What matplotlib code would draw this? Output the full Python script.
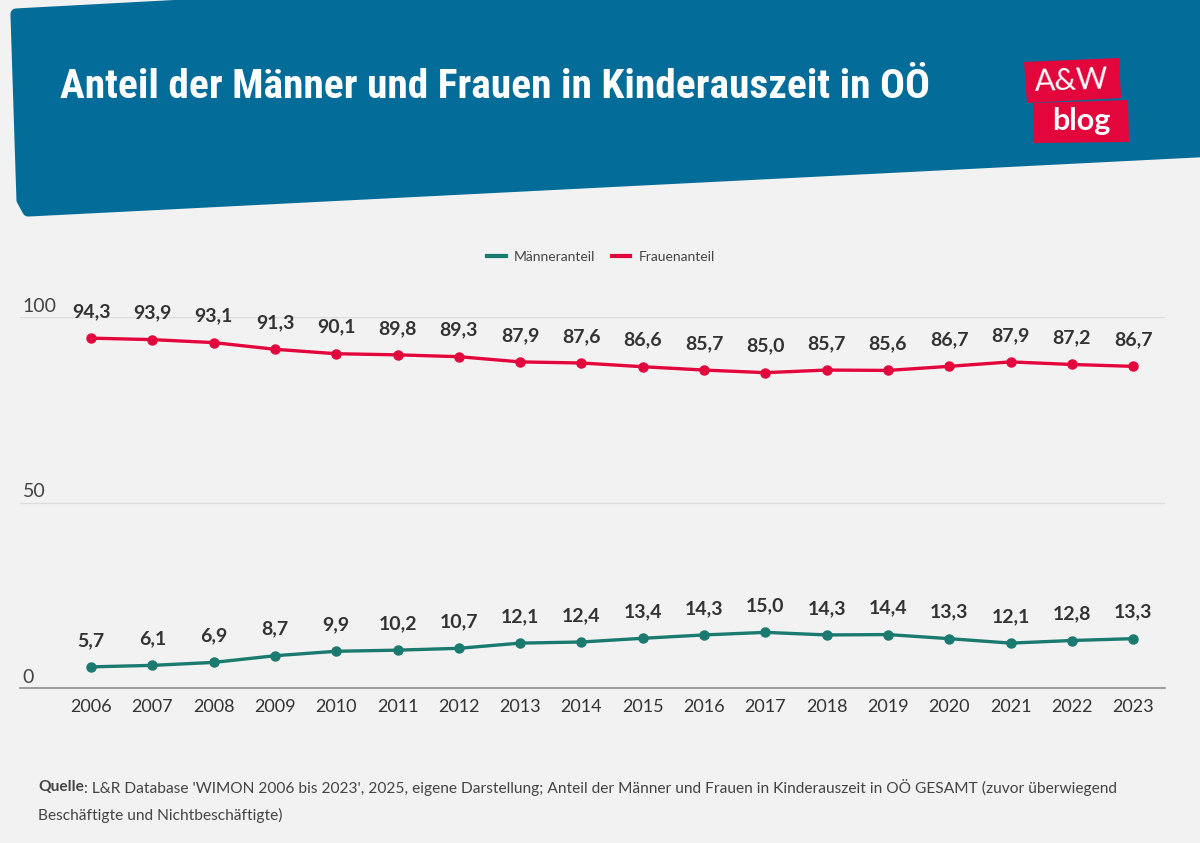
import matplotlib.pyplot as plt
from matplotlib.patches import Polygon
from matplotlib.lines import Line2D

years = list(range(2006, 2024))
maenner = [5.7, 6.1, 6.9, 8.7, 9.9, 10.2, 10.7, 12.1, 12.4, 13.4, 14.3, 15.0, 14.3, 14.4, 13.3, 12.1, 12.8, 13.3]
frauen = [94.3, 93.9, 93.1, 91.3, 90.1, 89.8, 89.3, 87.9, 87.6, 86.6, 85.7, 85.0, 85.7, 85.6, 86.7, 87.9, 87.2, 86.7]
y_ticks = [0, 50, 100]

W, H = 1200, 843
bg = "#f2f2f2"
blue = "#046c99"
teal = "#1a7a70"
red = "#e2063c"
txt = "#333333"
font = ["Lato", "DejaVu Sans"]


def fx(x):
    return x / W


def fy(y):
    return 1 - y / H


fig = plt.figure(figsize=(12, 8.43), dpi=100, facecolor=bg)

# header band
pts = [(16, 14), (1215, -50), (1215, 151), (28, 211), (22, 200)]
fig.patches.append(Polygon([(fx(a), fy(b)) for a, b in pts], closed=True,
                           transform=fig.transFigure, facecolor=blue,
                           edgecolor=blue, linewidth=8, joinstyle="round"))
title = fig.text(fx(60), fy(87), "Anteil der Männer und Frauen in Kinderauszeit in OÖ",
                 color="white", fontsize=28, fontweight="bold", va="center", ha="left",
                 family=["Roboto Condensed", "Liberation Sans Narrow", "Roboto", "DejaVu Sans"])
fig.canvas.draw()
w = title.get_window_extent().width
title.set_fontsize(28 * 870 / w)

# logo
fig.patches.append(Polygon([(fx(a), fy(b)) for a, b in
                            [(1024, 62), (1119, 58), (1121, 98), (1027, 103)]],
                           closed=True, transform=fig.transFigure, facecolor=red))
fig.patches.append(Polygon([(fx(a), fy(b)) for a, b in
                            [(1033, 103), (1128, 100), (1129, 142), (1034, 143)]],
                           closed=True, transform=fig.transFigure, facecolor=red))
fig.text(fx(1072), fy(81), "A&W", color="white", fontsize=22, ha="center",
         va="center", family=font, fontweight="normal", rotation=2)
fig.text(fx(1081), fy(121), "blog", color="white", fontsize=22, ha="center",
         va="center", family=font, fontweight="bold")

# chart
ax = fig.add_axes([fx(20), fy(688), fx(1165 - 20), (688 - 317) / H])
ax.set_facecolor(bg)
ax.plot(years, maenner, color=teal, lw=2.4, marker="o", ms=6.5, zorder=3)
ax.plot(years, frauen, color=red, lw=2.4, marker="o", ms=6.5, zorder=3)
for x, m, f in zip(years, maenner, frauen):
    ax.annotate(f"{m:.1f}".replace(".", ","), (x, m), xytext=(0, 13),
                textcoords="offset points", ha="center", va="bottom",
                fontsize=14, fontweight="bold", color=txt, family=font)
    ax.annotate(f"{f:.1f}".replace(".", ","), (x, f), xytext=(0, 13),
                textcoords="offset points", ha="center", va="bottom",
                fontsize=14, fontweight="bold", color=txt, family=font)

ax.set_xlim(2004.84, 2023.52)
ax.set_ylim(0, 100)
ax.set_xticks(years)
ax.set_xticklabels([str(y) for y in years], fontsize=13, color=txt, family=font)
ax.tick_params(axis="x", length=0, pad=8)
ax.set_yticks([])
for s in ["top", "right", "left"]:
    ax.spines[s].set_visible(False)
ax.spines["bottom"].set_color("#8c8c8c")
ax.spines["bottom"].set_linewidth(1.2)
for v in y_ticks:
    if v > 0:
        ax.axhline(v, color="#dcdcdc", lw=1, zorder=0)
    ax.annotate(str(v), (0, v), xycoords=("axes fraction", "data"),
                xytext=(2, 1.5), textcoords="offset points", ha="left", va="bottom",
                fontsize=14, color="#444444", family=font)

handles = [Line2D([], [], color=teal, lw=3), Line2D([], [], color=red, lw=3)]
fig.legend(handles, ["Männeranteil", "Frauenanteil"], loc="center",
           bbox_to_anchor=(fx(601), fy(257)), ncol=2, frameon=False,
           handlelength=1.3, columnspacing=1.2, handletextpad=0.6,
           prop={"family": font, "size": 10}, labelcolor="#444444")

# source
q = fig.text(fx(38), fy(787), "Quelle", fontsize=11.2, fontweight="bold",
             color="#444444", family=font, va="center")
fig.canvas.draw()
bb = q.get_window_extent()
fig.text(bb.x1 / W, fy(787), ": L&R Database 'WIMON 2006 bis 2023', 2025, eigene Darstellung; "
         "Anteil der Männer und Frauen in Kinderauszeit in OÖ GESAMT (zuvor überwiegend",
         fontsize=11.2, color="#444444", family=font, va="center")
fig.text(fx(38), fy(815), "Beschäftigte und Nichtbeschäftigte)", fontsize=11.2,
         color="#444444", family=font, va="center")

fig.savefig("out.png", dpi=100, facecolor=bg)
